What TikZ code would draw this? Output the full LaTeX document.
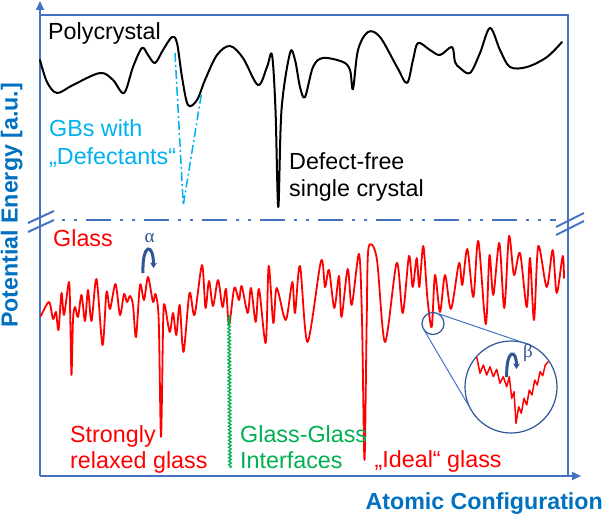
\documentclass[tikz,border=0pt]{standalone}
\usepackage{fontspec}
\setmainfont{Liberation Sans}
\newfontfamily\greekfont{Liberation Serif}
\usetikzlibrary{arrows.meta,decorations.pathmorphing}
\definecolor{axisblue}{HTML}{4472C4}
\definecolor{labelblue}{HTML}{0070C0}
\definecolor{navyblue}{HTML}{2F5597}
\definecolor{gbcyan}{HTML}{00B0F0}
\definecolor{glassred}{HTML}{FF0000}
\definecolor{ggreen}{HTML}{00B050}
\tikzset{
  axisline/.style={axisblue, line width=2pt},
  txt/.style={inner sep=0pt, anchor=base west, font=\fontsize{23.3}{27}\selectfont},
  axlabel/.style={inner sep=0pt, labelblue, font=\fontsize{23.2}{27}\selectfont\bfseries},
  polyline/.style={black, line width=2pt, line join=round, line cap=round},
  glassline/.style={glassred, line width=1.8pt, line join=round, line cap=round},
  magline/.style={axisblue, line width=1pt},
  magcircle/.style={navyblue, line width=1.2pt},
  relax/.style={navyblue, line width=3pt, -{Stealth[length=5.5pt,width=7pt]}},
  greek/.style={inner sep=0pt, navyblue, font=\greekfont\fontsize{19}{22}\selectfont},
}
\begin{document}
\begin{tikzpicture}[x=1pt,y=-1pt]
\useasboundingbox (0,0) rectangle (605,516);
% axes and frame
\coordinate (origin) at (40,476);
\coordinate (ytip) at (40,1);
\coordinate (xtip) at (581,476);
\coordinate (tl) at (40,15.5);
\coordinate (tr) at (568,15.5);
\coordinate (br) at (568,476);
\draw[axisline, -{Triangle[length=9pt,width=8pt]}] (origin) -- (ytip);
\draw[axisline, -{Triangle[length=9pt,width=8pt]}] (origin) -- (xtip);
\draw[axisline] (tl) -- (tr) -- (br);
% break marks
\draw[axisline] (28,223) -- (54,211);
\draw[axisline] (28,232) -- (54,220);
\draw[axisline] (556,227) -- (584,213);
\draw[axisline] (556,235) -- (584,221);
\draw[axisline, dash pattern=on 3pt off 9pt on 3pt off 9pt on 25pt off 9pt] (62,219.5) -- (556,219.5);
% axis labels
\node[axlabel, anchor=base, rotate=90] (ylab) at (17.5,205.5) {Potential Energy [a.u.]};
\node[axlabel, anchor=base east] (xlab) at (603,509) {Atomic Configuration};
% polycrystal curve
\draw[polyline] plot[smooth, tension=0.55] coordinates {
(40,60) (47,82) (57,93) (73,85) (100,73) (113,80) (124,93) (133,67) (142,48)
(148,55) (155,63) (163,50) (172,37) (177,43) (182,77) (188,105) (197,100)
(205,80) (217,55) (230,46) (243,58) (258,85) (267,67) (272,55) (275.5,110)
(278.3,207) (281.5,110) (290,53) (295,60) (300,87) (305,97) (313,67) (323,58)
(343,62) (350,70) (353,89) (358,50) (368,32) (380,37) (397,67) (407,83)
(413,60) (418,43) (430,50) (440,55) (452,47) (455,62) (460,68) (470,73)
(480,53) (490,28) (500,50) (510,67) (527,67) (547,57) (562,42)};
% GB defectant well
\draw[gbcyan, line width=1.5pt, dash pattern=on 9pt off 3pt on 2pt off 3pt]
  (175,53) -- (183.3,205) -- (201.7,92);
% glass curve
\draw[glassline] plot[smooth, tension=0.5] coordinates {
(41,316) (49,302) (53,319) (56,312) (58.5,330) (61.5,293) (64,315) (69,282)
(70.3,320) (71.5,375) (73,320) (75,307) (78,317) (81.5,295) (85,321) (88,290)
(91.5,321) (96.5,279) (102.5,345) (106.5,292) (110,309) (115.5,284) (120,315)
(124,294) (127,302) (130,296) (133,305) (136,337) (140,285) (144,300) (148,277)
(153,302) (155.5,294) (158.7,320) (161,437) (163.2,320) (164.7,305) (169.7,332)
(173,313) (176.3,335) (179.7,305) (183.5,352) (189.5,293) (194.5,315) (202,265)
(205.5,308) (209,281) (213,306) (218,280) (222.5,307) (226,289) (229,325)
(234.3,288) (239,300) (241.7,286) (247.7,313) (251,288) (255.7,322) (259,289)
(265.7,343) (268.7,266) (273.3,323) (276.7,288) (285.7,320) (292.3,282)
(295,313) (300,266) (307.5,342) (321,261) (325,287) (329,270) (334.3,308)
(339,276) (341.5,317) (347.7,269) (351.7,305) (359,254) (362,320) (364.5,460)
(366.7,320) (368.5,248) (376.7,258) (385,342) (396.7,263) (402.7,313) (409,256)
(412.7,287) (416.7,258) (419.3,287) (423.3,246) (427.3,297) (431.7,327) (435,275)
(440,312) (445,275) (451,309) (459,263) (462.3,285) (467.3,249) (473.3,297)
(478.3,241) (485.7,324) (489.5,255) (493.3,295) (499.3,243) (504.3,308) (509,236)
(514,275) (520,253) (526.7,307) (530,258) (534,320) (538.3,246) (546.7,287)
(552.7,250) (556.7,293) (562.7,256) (564,278)};
% glass-glass interface
\draw[ggreen, line width=1.3pt, decorate, decoration={snake, amplitude=1.3pt, segment length=3.5pt}]
  (229,315) -- (230,468);
% alpha relaxation
\draw[relax] (143,273) .. controls (142,243) and (153.5,242) .. (153.5,268);
\node[greek] (alpha) at (149.5,238) {α};
% magnifier
\node[draw, magcircle, circle, minimum size=22pt, inner sep=0pt] (small) at (433,323.5) {};
\node[draw, magcircle, circle, minimum size=92pt, inner sep=0pt] (big) at (511,387) {};
\coordinate (ta1) at (423.5,329.1);
\coordinate (ta2) at (471.4,410.3);
\coordinate (tb1) at (436.5,313.1);
\coordinate (tb2) at (525.8,343.5);
\draw[magline] (ta1) -- (ta2);
\draw[magline] (tb1) -- (tb2);
\draw[glassred, line width=1.5pt, line join=round] plot coordinates {
(476.7,356.7) (480,373.3) (483.3,365) (486.7,375) (490,366.7) (493.3,376.7)
(496.7,369.3) (500,383.3) (503.3,376.7) (506.7,386.7) (509.3,376.7) (511.7,398.3)
(514,391.7) (516,423.3) (518.7,406.7) (521.3,413.3) (524,398.3) (526.7,405)
(529.3,390) (532,395) (534.7,380) (537.3,385) (540,371.7) (542.7,375.7)
(545.3,365) (548.3,361.7)};
\draw[relax] (506.7,377) .. controls (506,349) and (516.5,348) .. (516.5,369);
\node[greek] (beta) at (528,353) {β};
% labels
\node[txt] (poly) at (48,39.5) {Polycrystal};
\node[txt, gbcyan] (gb1) at (49,137) {GBs with};
\node[txt, gbcyan] (gb2) at (49,164.5) {„Defectants“};
\node[txt] (df1) at (289,169) {Defect-free};
\node[txt] (df2) at (289,196) {single crystal};
\node[txt, glassred] (glass) at (53,246) {Glass};
\node[txt, glassred] (str1) at (70,442) {Strongly};
\node[txt, glassred] (str2) at (70,468) {relaxed glass};
\node[txt, ggreen] (gg1) at (240,442) {Glass-Glass};
\node[txt, ggreen] (gg2) at (240,468) {Interfaces};
\node[txt, glassred] (ideal) at (374.5,467) {„Ideal“ glass};
\end{tikzpicture}
\end{document}
